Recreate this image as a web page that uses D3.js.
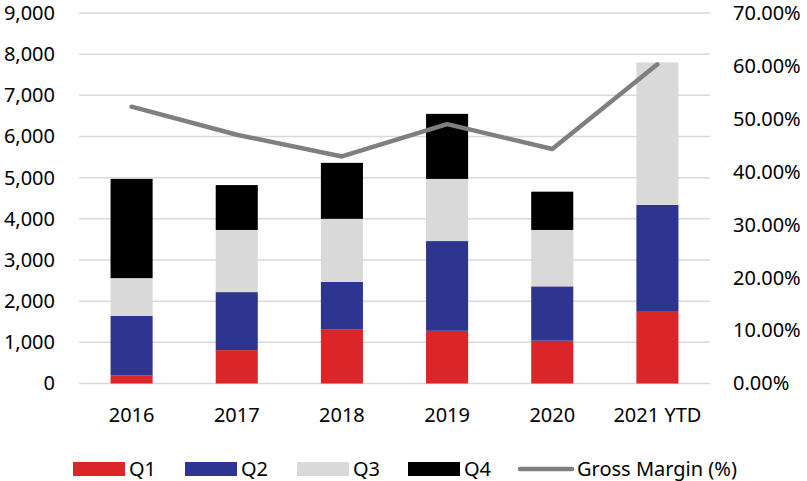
<!DOCTYPE html>
<html>
<head>
<meta charset="utf-8">
<script src="https://cdn.jsdelivr.net/npm/d3@7"></script>
<style>
  body { margin: 0; background: #fff; }
  text { font-family: "Noto Sans", sans-serif; fill: #000; }
</style>
</head>
<body>
<div id="chart"></div>
<script>
// data
var years = ["2016", "2017", "2018", "2019", "2020", "2021 YTD"];
var q1 = [200, 810, 1320, 1280, 1040, 1760];
var q2 = [1440, 1410, 1150, 2180, 1320, 2580];
var q3 = [920, 1510, 1530, 1510, 1370, 3460];
var q4 = [2410, 1090, 1360, 1580, 930, 0];
var grossMargin = [52.3, 47.0, 42.9, 49.0, 44.3, 60.3];
var leftTicks = [0, 1000, 2000, 3000, 4000, 5000, 6000, 7000, 8000, 9000];
var rightTicks = [0, 10, 20, 30, 40, 50, 60, 70];
var seriesNames = ["Q1", "Q2", "Q3", "Q4"];
var colors = ["#da2529", "#2e3590", "#d9d9d9", "#000000"];

var W = 807, H = 481;
var margin = { top: 13, right: 97, bottom: 97.5, left: 79 };
var width = W - margin.left - margin.right,
  height = H - margin.top - margin.bottom;

var svg = d3.select("#chart").append("svg")
  .attr("width", W).attr("height", H);
var g = svg.append("g")
  .attr("transform", "translate(" + margin.left + "," + margin.top + ")");

var x = d3.scaleBand().domain(years).range([0, width]).paddingInner(0.6).paddingOuter(0.3);
var y = d3.scaleLinear().domain([0, 9000]).range([height, 0]);
var y2 = d3.scaleLinear().domain([0, 70]).range([height, 0]);

// gridlines
g.selectAll(".grid").data(leftTicks).enter().append("line")
  .attr("x1", 0).attr("x2", width)
  .attr("y1", function(d){ return y(d); })
  .attr("y2", function(d){ return y(d); })
  .attr("stroke", "#d9d9d9").attr("stroke-width", 1.5);

// left axis
var yAxis = g.append("g")
  .call(d3.axisLeft(y).tickValues(leftTicks).tickFormat(d3.format(",")).tickSize(0).tickPadding(24));
yAxis.select(".domain").remove();
yAxis.selectAll("text").style("font-size", "20px").style("font-family", "Noto Sans");

// right axis
var yAxis2 = g.append("g")
  .attr("transform", "translate(" + width + ",0)")
  .call(d3.axisRight(y2).tickValues(rightTicks).tickFormat(function(d){ return d.toFixed(2) + "%"; }).tickSize(0).tickPadding(23));
yAxis2.select(".domain").remove();
yAxis2.selectAll("text").style("font-size", "20px").style("font-family", "Noto Sans");

// x axis
var xAxis = g.append("g")
  .attr("transform", "translate(0," + height + ")")
  .call(d3.axisBottom(x).tickSize(0).tickPadding(24));
xAxis.select(".domain").remove();
xAxis.selectAll("text").style("font-size", "20px").style("font-family", "Noto Sans");

// stacked bars
var table = years.map(function(yr, i){
  return { year: yr, Q1: q1[i], Q2: q2[i], Q3: q3[i], Q4: q4[i] };
});
var stack = d3.stack().keys(seriesNames)(table);

g.selectAll(".layer").data(stack).enter().append("g")
  .attr("fill", function(d, i){ return colors[i]; })
  .selectAll("rect").data(function(d){ return d; }).enter().append("rect")
  .attr("x", function(d){ return x(d.data.year); })
  .attr("width", x.bandwidth())
  .attr("y", function(d){ return y(d[1]); })
  .attr("height", function(d){ return y(d[0]) - y(d[1]); });

// gross margin line
var line = d3.line()
  .x(function(d, i){ return x(years[i]) + x.bandwidth() / 2; })
  .y(function(d){ return y2(d); });
g.append("path")
  .datum(grossMargin)
  .attr("d", line)
  .attr("fill", "none")
  .attr("stroke", "#7f7f7f")
  .attr("stroke-width", 4.5)
  .attr("stroke-linejoin", "round")
  .attr("stroke-linecap", "round");

// legend
var legend = svg.append("g").attr("transform", "translate(0,469)");
var legendX = [73, 185, 297, 408];
seriesNames.forEach(function(name, i){
  legend.append("rect")
    .attr("x", legendX[i]).attr("y", -7)
    .attr("width", 52).attr("height", 14)
    .attr("fill", colors[i]);
  legend.append("text")
    .attr("x", legendX[i] + 56).attr("y", 0)
    .attr("dy", "0.35em")
    .style("font-size", "20px")
    .text(name);
});
legend.append("line")
  .attr("x1", 520).attr("x2", 572)
  .attr("y1", 0).attr("y2", 0)
  .attr("stroke", "#7f7f7f").attr("stroke-width", 4.5)
  .attr("stroke-linecap", "round");
legend.append("text")
  .attr("x", 577).attr("y", 0).attr("dy", "0.35em")
  .style("font-size", "20px")
  .text("Gross Margin (%)");
</script>
</body>
</html>
